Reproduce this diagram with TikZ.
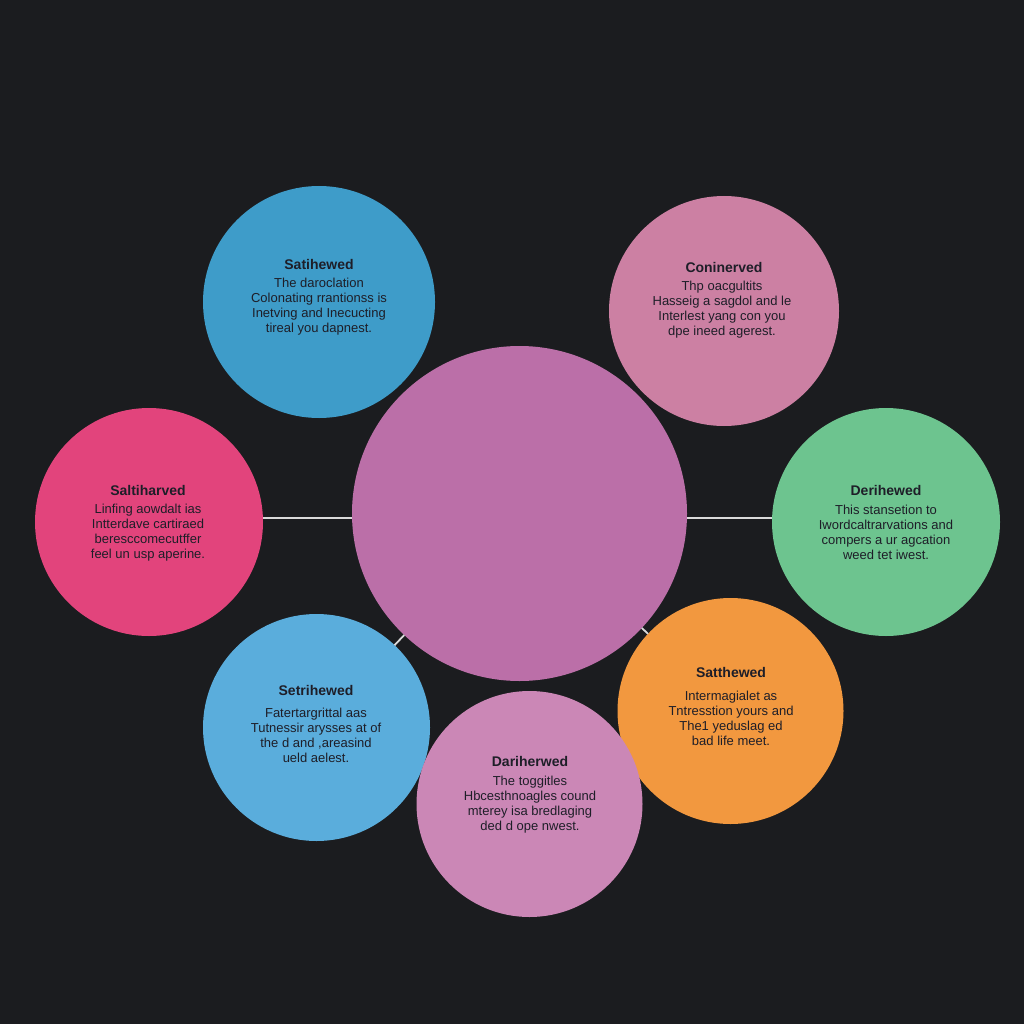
\documentclass[tikz,border=0pt]{standalone}
\usepackage{fontspec}
\setmainfont{Liberation Sans}
\definecolor{bg}{HTML}{1B1C1F}
\definecolor{cTL}{HTML}{3E9CC9}
\definecolor{cTR}{HTML}{CC80A3}
\definecolor{cL}{HTML}{E2447C}
\definecolor{cR}{HTML}{6DC48F}
\definecolor{cC}{HTML}{BB6FA8}
\definecolor{cBL}{HTML}{5AADDC}
\definecolor{cBR}{HTML}{F2983F}
\definecolor{cB}{HTML}{CB87B6}
\definecolor{txt}{HTML}{1E1E28}
\definecolor{conn}{HTML}{DADADA}
\tikzset{
  bubble/.style={circle, draw=none, inner sep=0pt, outer sep=0pt, minimum size=#1},
  ttl/.style={font=\bfseries\fontsize{14}{16}\selectfont, text=txt, inner sep=0pt},
  bdy/.style={font=\fontsize{13}{15}\selectfont, text=txt, align=center, inner sep=0pt},
  conline/.style={draw=conn, line width=1.8pt}
}
\begin{document}
\begin{tikzpicture}[x=1pt,y=-1pt]
\useasboundingbox (0,0) rectangle (1024,1024);
\fill[bg] (0,0) rectangle (1024,1024);

\node[bubble=232pt, fill=cTL] (tl) at (319,302) {};
\node[bubble=230pt, fill=cTR] (tr) at (724,311) {};
\node[bubble=228pt, fill=cL] (l) at (149,522) {};
\node[bubble=228pt, fill=cR] (r) at (886,522) {};
\node[bubble=335pt, fill=cC] (c) at (519.5,513.5) {};
\node[bubble=227pt, fill=cBL] (bl) at (316.5,727.5) {};
\node[bubble=226pt, fill=cBR] (br) at (730.5,711) {};
\node[bubble=226pt, fill=cB] (b) at (529.5,804) {};

\draw[conline] (l.2) -- (c.181.5 |- l.2);
\draw[conline] (r.178) -- (c.358.5 |- r.178);
\draw[conline] (c) -- (bl);
\draw[conline] (c) -- (br);

\node[ttl] (tlt) at (319,264) {Satihewed};
\node[bdy] (tlb) at (319,306.5) {The daroclation\\Colonating rrantionss is\\Inetving and Inecucting\\tireal you dapnest.};

\node[ttl] (trt) at (724,267) {Coninerved};
\node[bdy] (trb) at (722,310) {Thp oacgultits\\Hasseig a sagdol and le\\Interlest yang con you\\dpe ineed agerest.};

\node[ttl] (lt) at (148,490) {Saltiharved};
\node[bdy] (lb) at (148,532.5) {Linfing aowdalt ias\\Intterdave cartiraed\\beresccomecutffer\\feel un usp aperine.};

\node[ttl] (rt) at (886,490) {Derihewed};
\node[bdy] (rb) at (886,532.5) {This stansetion to\\Iwordcaltrarvations and\\compers a ur agcation\\weed tet iwest.};

\node[ttl] (blt) at (316,690) {Setrihewed};
\node[bdy] (blb) at (316,735.5) {Fatertargrittal aas\\Tutnessir arysses at of\\the d and ,areasind\\ueld aelest.};

\node[ttl] (brt) at (731,672) {Satthewed};
\node[bdy] (brb) at (731,718.5) {Intermagialet as\\Tntresstion yours and\\The1 yeduslag ed\\bad life meet.};

\node[ttl] (bt) at (530,761) {Dariherwed};
\node[bdy] (bb) at (530,805) {The toggitles\\Hbcesthnoagles cound\\mterey isa bredlaging\\ded d ope nwest.};
\end{tikzpicture}
\end{document}
